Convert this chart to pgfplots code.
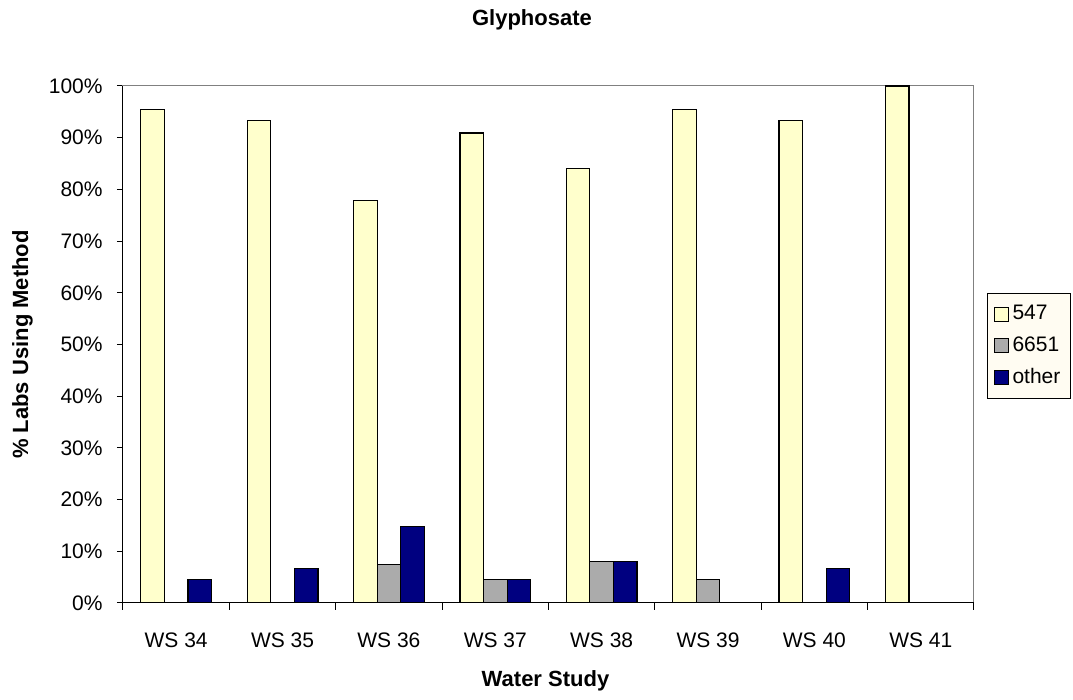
\documentclass[border=0pt]{standalone}
\usepackage{pgfplots}
\pgfplotsset{compat=1.18}
\usepackage{fontspec}
\setmainfont{Liberation Sans}
\definecolor{c547}{HTML}{FFFFCC}
\definecolor{c6651}{HTML}{ABABAB}
\definecolor{cother}{HTML}{000080}
\definecolor{legbg}{HTML}{FFFCF2}
\definecolor{framegray}{HTML}{808080}
\begin{document}
\begin{tikzpicture}
\path[use as bounding box] (0,0) rectangle (536.5pt,350pt);
\begin{axis}[
  at={(61.5pt,48.5pt)}, anchor=south west,
  scale only axis, width=425.5pt, height=258.5pt,
  xmin=-0.5, xmax=7.5, ymin=0, ymax=100,
  ybar=0pt, bar width=11.8pt,
  axis line style={draw=framegray, line width=0.5pt},
  tick pos=left,
  tick align=outside,
  major tick length=3pt,
  xtick={0,...,7},
  xticklabels={WS 34,WS 35,WS 36,WS 37,WS 38,WS 39,WS 40,WS 41},
  xtick style={draw=none},
  xticklabel style={anchor=center, yshift=-15.5pt, font=\fontsize{10.5}{12}\selectfont},
  extra x ticks={-0.5,0.5,1.5,2.5,3.5,4.5,5.5,6.5,7.5},
  extra x tick labels={},
  extra x tick style={xtick style={draw=black, line width=0.5pt}, major tick length=3.5pt},
  ytick={0,10,...,100},
  yticklabels={0\%,10\%,20\%,30\%,40\%,50\%,60\%,70\%,80\%,90\%,100\%},
  ytick style={draw=black, line width=0.5pt},
  yticklabel style={anchor=east, inner sep=0pt, xshift=-7pt, font=\fontsize{10.5}{12}\selectfont},
  title={Glyphosate},
  title style={at={(axis description cs:0.4806,1.105)}, anchor=center, font=\bfseries\fontsize{11}{13}\selectfont},
  xlabel={Water Study},
  xlabel style={at={(axis description cs:0.4965,-0.1509)}, anchor=center, font=\bfseries\fontsize{11}{13}\selectfont},
  ylabel={\% Labs Using Method},
  ylabel style={at={(axis description cs:-0.1181,0.5)}, anchor=center, font=\bfseries\fontsize{11}{13}\selectfont},
  legend style={at={(axis description cs:1.0153,0.5996)}, anchor=north west, draw=black, line width=0.5pt, fill=legbg, font=\fontsize{10.5}{12}\selectfont, inner xsep=3pt, inner ysep=4pt, row sep=3pt},
  legend cell align=left,
  legend image code/.code={\draw[#1, line width=0.5pt] (0pt,-3.5pt) rectangle (7pt,3.5pt);},
  after end axis/.code={\draw[black, line width=0.5pt] (rel axis cs:0,1) -- (rel axis cs:0,0) -- (rel axis cs:1,0);},
]
\addplot[fill=c547, draw=black, line width=0.6pt] coordinates {(0,95.45) (1,93.33) (2,77.78) (3,90.91) (4,84) (5,95.45) (6,93.33) (7,100)};
\addplot[fill=c6651, draw=black, line width=0.6pt] coordinates {(2,7.41) (3,4.55) (4,8) (5,4.55)};
\addplot[fill=cother, draw=black, line width=0.6pt] coordinates {(0,4.55) (1,6.67) (2,14.81) (3,4.55) (4,8) (6,6.67)};
\legend{547,6651,other}
\end{axis}
\end{tikzpicture}
\end{document}
